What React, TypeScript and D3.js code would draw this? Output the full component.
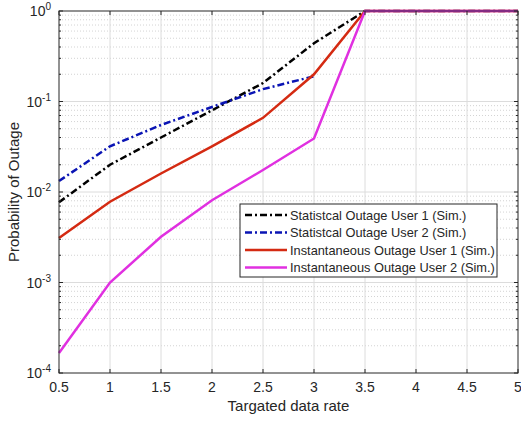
import React, { useEffect, useRef } from 'react';
import * as d3 from 'd3';

const rates = [0.5, 1, 1.5, 2, 2.5, 3, 3.5, 4, 4.5, 5];
const statUser1 = [0.0077, 0.02, 0.04, 0.08, 0.16, 0.44, 1, 1, 1, 1];
const statUser2 = [0.0132, 0.032, 0.055, 0.087, 0.137, 0.19];
const instUser1 = [0.0031, 0.0078, 0.016, 0.032, 0.066, 0.2, 1, 1, 1, 1];
const instUser2 = [0.000166, 0.001, 0.0032, 0.0081, 0.0175, 0.039, 1, 1, 1, 1];
const xTicks = [0.5, 1, 1.5, 2, 2.5, 3, 3.5, 4, 4.5, 5];
const yTicks = [1e-4, 1e-3, 1e-2, 1e-1, 1];

const seriesNames = [
  'Statistcal Outage User 1 (Sim.)',
  'Statistcal Outage User 2 (Sim.)',
  'Instantaneous Outage User 1 (Sim.)',
  'Instantaneous Outage User 2 (Sim.)',
];

const App = () => {
  const svgRef = useRef(null);

  useEffect(() => {
    const W = 521;
    const H = 423;
    const margin = { top: 11, right: 3, bottom: 50, left: 59 };
    const width = W - margin.left - margin.right;
    const height = H - margin.top - margin.bottom;
    const axisColor = '#262626';
    const font = 'Liberation Sans, Arial, sans-serif';

    const svg = d3.select(svgRef.current).attr('width', W).attr('height', H);
    svg.selectAll('*').remove();

    svg.append('rect').attr('width', W).attr('height', H).attr('fill', '#fff');

    const g = svg.append('g').attr('transform', `translate(${margin.left},${margin.top})`);

    const x = d3.scaleLinear().domain([0.5, 5]).range([0, width]);
    const y = d3.scaleLog().domain([1e-4, 1]).range([height, 0]);

    // minor grid (dotted) for log axis
    const minor = [];
    for (let e = -4; e < 0; e++) {
      for (let m = 2; m <= 9; m++) minor.push(m * Math.pow(10, e));
    }
    g.selectAll('.minor')
      .data(minor)
      .enter()
      .append('line')
      .attr('x1', 0)
      .attr('x2', width)
      .attr('y1', (d) => y(d))
      .attr('y2', (d) => y(d))
      .attr('stroke', '#c8c8c8')
      .attr('stroke-width', 0.8)
      .attr('stroke-dasharray', '1,2');

    // major grid
    g.selectAll('.gx')
      .data(xTicks.slice(1, -1))
      .enter()
      .append('line')
      .attr('x1', (d) => x(d))
      .attr('x2', (d) => x(d))
      .attr('y1', 0)
      .attr('y2', height)
      .attr('stroke', '#dcdcdc')
      .attr('stroke-width', 1);
    g.selectAll('.gy')
      .data(yTicks.slice(1, -1))
      .enter()
      .append('line')
      .attr('x1', 0)
      .attr('x2', width)
      .attr('y1', (d) => y(d))
      .attr('y2', (d) => y(d))
      .attr('stroke', '#dcdcdc')
      .attr('stroke-width', 1);

    // lines
    const line = d3
      .line()
      .x((d) => x(d[0]))
      .y((d) => y(d[1]));

    const series = [
      { vals: statUser1, color: '#000000', dash: '7,3,2,3' },
      { vals: statUser2, color: '#0a14b4', dash: '7,3,2,3' },
      { vals: instUser1, color: '#d42a12', dash: null },
      { vals: instUser2, color: '#e030e0', dash: null },
    ];

    series.forEach((s) => {
      g.append('path')
        .datum(s.vals.map((v, i) => [rates[i], v]))
        .attr('d', line)
        .attr('fill', 'none')
        .attr('stroke', s.color)
        .attr('stroke-width', 2.5)
        .attr('stroke-dasharray', s.dash);
    });

    // box
    g.append('rect')
      .attr('width', width)
      .attr('height', height)
      .attr('fill', 'none')
      .attr('stroke', axisColor)
      .attr('stroke-width', 1);

    // ticks inward
    xTicks.forEach((t) => {
      g.append('line').attr('x1', x(t)).attr('x2', x(t)).attr('y1', height).attr('y2', height - 4).attr('stroke', axisColor);
      g.append('line').attr('x1', x(t)).attr('x2', x(t)).attr('y1', 0).attr('y2', 4).attr('stroke', axisColor);
    });
    yTicks.forEach((t) => {
      g.append('line').attr('x1', 0).attr('x2', 4).attr('y1', y(t)).attr('y2', y(t)).attr('stroke', axisColor);
      g.append('line').attr('x1', width).attr('x2', width - 4).attr('y1', y(t)).attr('y2', y(t)).attr('stroke', axisColor);
    });
    minor.forEach((t) => {
      g.append('line').attr('x1', 0).attr('x2', 2).attr('y1', y(t)).attr('y2', y(t)).attr('stroke', axisColor);
      g.append('line').attr('x1', width).attr('x2', width - 2).attr('y1', y(t)).attr('y2', y(t)).attr('stroke', axisColor);
    });

    // tick labels
    g.selectAll('.xl')
      .data(xTicks)
      .enter()
      .append('text')
      .attr('x', (d) => x(d))
      .attr('y', height + 19)
      .attr('text-anchor', 'middle')
      .attr('font-family', font)
      .attr('font-size', 14)
      .attr('fill', axisColor)
      .text((d) => String(d));

    yTicks.forEach((t) => {
      const txt = g
        .append('text')
        .attr('x', -8)
        .attr('y', y(t) + 5)
        .attr('text-anchor', 'end')
        .attr('font-family', font)
        .attr('font-size', 14)
        .attr('fill', axisColor);
      txt.append('tspan').text('10');
      txt
        .append('tspan')
        .attr('dy', -6)
        .attr('font-size', 10)
        .text(String(Math.round(Math.log10(t))));
    });

    // axis labels
    svg
      .append('text')
      .attr('x', margin.left + width / 2)
      .attr('y', H - 12)
      .attr('text-anchor', 'middle')
      .attr('font-family', font)
      .attr('font-size', 15)
      .attr('fill', axisColor)
      .text('Targated data rate');
    svg
      .append('text')
      .attr('transform', `translate(19,${margin.top + height / 2}) rotate(-90)`)
      .attr('text-anchor', 'middle')
      .attr('font-family', font)
      .attr('font-size', 15)
      .attr('fill', axisColor)
      .text('Probability of Outage');

    // legend
    const lg = svg.append('g').attr('transform', 'translate(240,204)');
    lg.append('rect')
      .attr('width', 257)
      .attr('height', 73)
      .attr('fill', '#fff')
      .attr('stroke', axisColor)
      .attr('stroke-width', 1);
    seriesNames.forEach((name, i) => {
      const yy = 11 + i * 17.5;
      lg.append('line')
        .attr('x1', 5)
        .attr('x2', 47)
        .attr('y1', yy)
        .attr('y2', yy)
        .attr('stroke', series[i].color)
        .attr('stroke-width', 2.5)
        .attr('stroke-dasharray', series[i].dash);
      lg.append('text')
        .attr('x', 50)
        .attr('y', yy + 4.5)
        .attr('font-family', font)
        .attr('font-size', 12.8)
        .attr('fill', axisColor)
        .text(name);
    });
  }, []);

  return <svg ref={svgRef} style={{ position: 'absolute', left: 0, top: 0 }}></svg>;
};

export default App;
